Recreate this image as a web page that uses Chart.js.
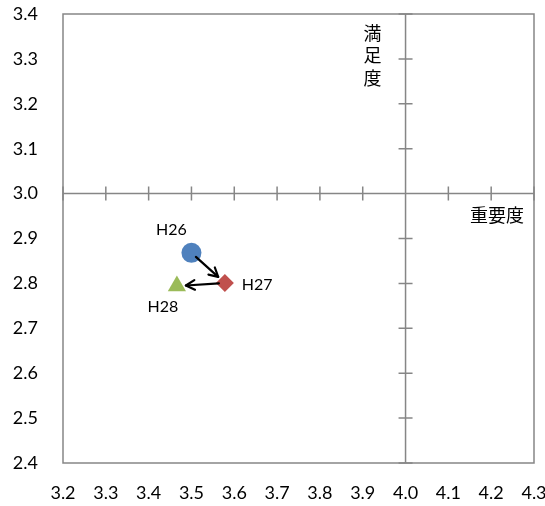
<!DOCTYPE html>
<html>
<head>
<meta charset="utf-8">
<script src="https://cdn.jsdelivr.net/npm/chart.js@4/dist/chart.umd.min.js"></script>
<style>
    body { margin: 0; background: #fff; }
</style>
</head>
<body>
<canvas id="canvas1" width="545" height="506"></canvas>
<script>
// data
let years = ['H26', 'H27', 'H28'];
let importance = [3.50, 3.578, 3.466];    // 重要度 (x)
let satisfaction = [2.868, 2.801, 2.794]; // 満足度 (y)
let xTicks = [3.2, 3.3, 3.4, 3.5, 3.6, 3.7, 3.8, 3.9, 4.0, 4.1, 4.2, 4.3];
let yTicks = [2.4, 2.5, 2.6, 2.7, 2.8, 2.9, 3.0, 3.1, 3.2, 3.3, 3.4];
let crossX = 4.0;
let crossY = 3.0;

let axisGrey = '#868686';
let tickFont = { family: 'Lato, "Open Sans", sans-serif', size: 18 };

let points = years.map(function (y, i) {
    return { x: importance[i], y: satisfaction[i] };
});

// box, cross axes, arrows, labels
let quadrantPlugin = {
    id: 'quadrant',
    beforeDatasetsDraw: function (chart) {
        let ctx = chart.ctx;
        let a = chart.chartArea;
        let xs = chart.scales.x;
        let ys = chart.scales.y;
        let cx = xs.getPixelForValue(crossX);
        let cy = ys.getPixelForValue(crossY);
        ctx.save();
        ctx.strokeStyle = axisGrey;
        ctx.lineWidth = 1.5;
        ctx.strokeRect(a.left, a.top, a.right - a.left, a.bottom - a.top);
        ctx.beginPath();
        ctx.moveTo(cx, a.top);
        ctx.lineTo(cx, a.bottom);
        ctx.moveTo(a.left, cy);
        ctx.lineTo(a.right, cy);
        xTicks.forEach(function (v) {
            let px = xs.getPixelForValue(v);
            ctx.moveTo(px, cy - 7);
            ctx.lineTo(px, cy + 7);
        });
        yTicks.forEach(function (v) {
            let py = ys.getPixelForValue(v);
            ctx.moveTo(cx - 7, py);
            ctx.lineTo(cx + 7, py);
        });
        ctx.stroke();
        ctx.restore();
    },
    afterDatasetsDraw: function (chart) {
        let ctx = chart.ctx;
        let xs = chart.scales.x;
        let ys = chart.scales.y;
        let px = points.map(function (p) {
            return { x: xs.getPixelForValue(p.x), y: ys.getPixelForValue(p.y) };
        });
        ctx.save();
        ctx.strokeStyle = '#000';
        ctx.fillStyle = '#000';
        ctx.lineWidth = 2.2;
        ctx.lineCap = 'round';
        ctx.lineJoin = 'round';
        for (let i = 0; i < px.length - 1; i++) {
            let p0 = px[i], p1 = px[i + 1];
            let dx = p1.x - p0.x, dy = p1.y - p0.y;
            let len = Math.sqrt(dx * dx + dy * dy);
            let ux = dx / len, uy = dy / len;
            let sx = p0.x + ux * 6, sy = p0.y + uy * 6;
            let ex = p1.x - ux * 9, ey = p1.y - uy * 9;
            ctx.beginPath();
            ctx.moveTo(sx, sy);
            ctx.lineTo(ex, ey);
            ctx.stroke();
            // arrow head
            let ang = Math.atan2(uy, ux);
            ctx.beginPath();
            ctx.moveTo(ex - 10 * Math.cos(ang - 0.5), ey - 10 * Math.sin(ang - 0.5));
            ctx.lineTo(ex, ey);
            ctx.lineTo(ex - 10 * Math.cos(ang + 0.5), ey - 10 * Math.sin(ang + 0.5));
            ctx.stroke();
        }

        // point labels
        ctx.font = '16px Lato, "Open Sans", sans-serif';
        ctx.fillStyle = '#000';
        ctx.textAlign = 'center';
        ctx.textBaseline = 'middle';
        ctx.fillText(years[0], px[0].x - 20, px[0].y - 23);
        ctx.textAlign = 'left';
        ctx.fillText(years[1], px[1].x + 17, px[1].y + 2);
        ctx.textAlign = 'center';
        ctx.fillText(years[2], px[2].x - 14, px[2].y + 21);

        // axis titles
        let a = chart.chartArea;
        let cx = xs.getPixelForValue(crossX);
        let cy = ys.getPixelForValue(crossY);
        ctx.font = '18px "Noto Sans CJK JP", sans-serif';
        ctx.textAlign = 'center';
        let vt = '満足度';
        for (let i = 0; i < vt.length; i++) {
            ctx.fillText(vt[i], cx - 33, a.top + 19 + i * 22.5);
        }
        ctx.textAlign = 'right';
        ctx.fillText('重要度', a.right - 10, cy + 22);
        ctx.restore();
    }
};

let config = {
    type: 'scatter',
    data: {
        datasets: [{
            label: '重要度・満足度',
            data: points,
            pointStyle: ['circle', 'rectRot', 'triangle'],
            pointRadius: [10, 9, 10.5],
            pointHoverRadius: [10, 9, 10.5],
            backgroundColor: ['#4F81BD', '#C0504D', '#9BBB59'],
            borderColor: ['#4F81BD', '#C0504D', '#9BBB59'],
            borderWidth: 0,
            showLine: false
        }]
    },
    options: {
        responsive: false,
        animation: false,
        layout: {
            padding: { top: 14, right: 11, left: 0, bottom: 0 }
        },
        plugins: {
            legend: { display: false },
            tooltip: { enabled: false }
        },
        scales: {
            x: {
                type: 'linear',
                min: xTicks[0],
                max: xTicks[xTicks.length - 1],
                afterBuildTicks: function (scale) {
                    scale.ticks = xTicks.map(function (v) { return { value: v }; });
                },
                afterFit: function (scale) {
                    scale.height = 43;
                    scale.paddingLeft = 0;
                    scale.paddingRight = 0;
                },
                grid: { display: false, drawTicks: false },
                border: { display: false },
                ticks: {
                    padding: 19,
                    color: '#000',
                    font: tickFont,
                    maxRotation: 0,
                    autoSkip: false,
                    callback: function (v) { return Number(v).toFixed(1); }
                }
            },
            y: {
                type: 'linear',
                min: yTicks[0],
                max: yTicks[yTicks.length - 1],
                afterBuildTicks: function (scale) {
                    scale.ticks = yTicks.map(function (v) { return { value: v }; });
                },
                afterFit: function (scale) {
                    scale.width = 63;
                    scale.paddingTop = 0;
                    scale.paddingBottom = 0;
                },
                grid: { display: false, drawTicks: false },
                border: { display: false },
                ticks: {
                    padding: 25,
                    color: '#000',
                    font: tickFont,
                    autoSkip: false,
                    callback: function (v) { return Number(v).toFixed(1); }
                }
            }
        }
    },
    plugins: [quadrantPlugin]
};

let myChart = new Chart(
    document.getElementById('canvas1'),
    config
);
</script>
</body>
</html>
